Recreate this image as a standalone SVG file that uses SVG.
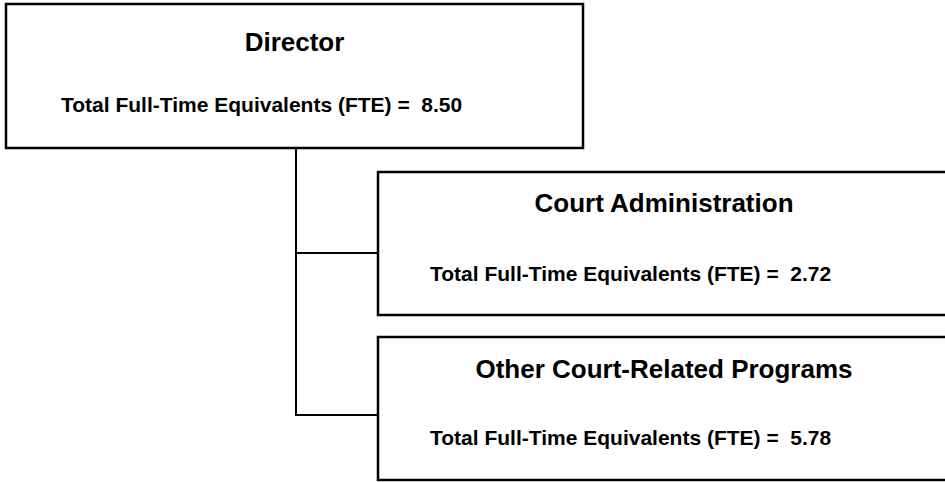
<svg xmlns="http://www.w3.org/2000/svg" width="945" height="482" viewBox="0 0 945 482">
<style>
.box{fill:#fff;stroke:#000;stroke-width:2.5}
.con{fill:none;stroke:#000;stroke-width:2}
.t{font-family:"Liberation Sans",Arial,sans-serif;font-weight:bold;fill:#000}
.h{font-size:26px;text-anchor:middle}
.f{font-size:21px}
</style>
<rect width="945" height="482" fill="#fff"/>
<g id="connectors">
<polyline class="con" points="296,148 296,415 378,415"/>
<line class="con" x1="296" y1="253" x2="378" y2="253"/>
</g>
<g id="director">
<rect class="box" x="6" y="4" width="577" height="144"/>
<text class="t h" x="294.5" y="51">Director</text>
<text class="t f" x="61" y="112" xml:space="preserve">Total Full-Time Equivalents (FTE) =  8.50</text>
</g>
<g id="court-administration">
<rect class="box" x="378" y="172" width="575" height="143"/>
<text class="t h" x="664" y="212">Court Administration</text>
<text class="t f" x="430" y="281" xml:space="preserve">Total Full-Time Equivalents (FTE) =  2.72</text>
</g>
<g id="other-court-related-programs">
<rect class="box" x="378" y="337" width="575" height="143"/>
<text class="t h" x="664" y="378">Other Court-Related Programs</text>
<text class="t f" x="430" y="445" xml:space="preserve">Total Full-Time Equivalents (FTE) =  5.78</text>
</g>
</svg>
